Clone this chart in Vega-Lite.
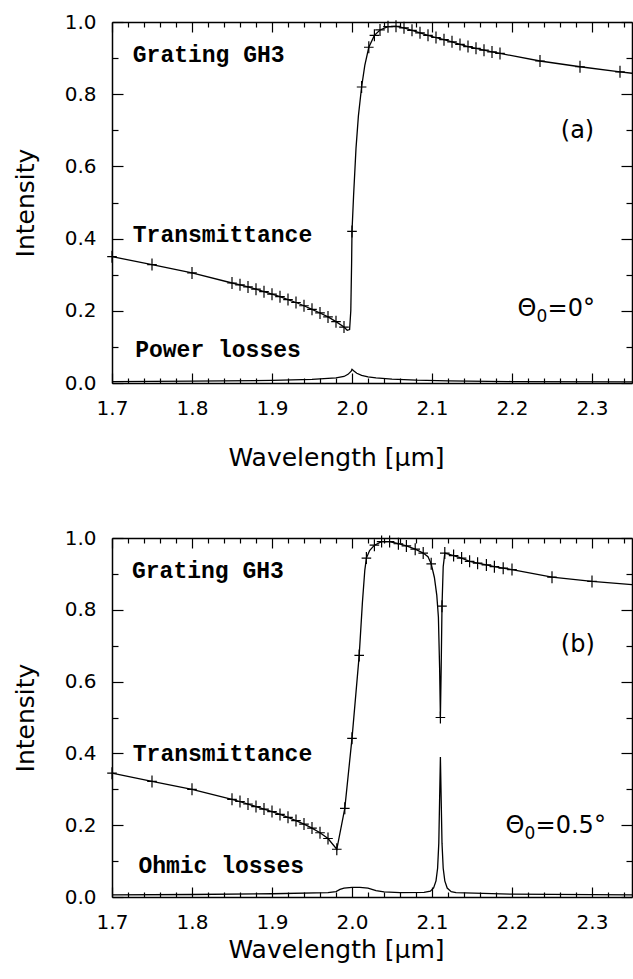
{
  "$schema": "https://vega.github.io/schema/vega-lite/v6.json",
  "padding": {"left": 13, "top": 12, "right": 0, "bottom": 5},
  "background": "white",
  "spacing": 58,
  "datasets": {
    "Ta": [
      {"w":1.70,"v":0.350,"m":1},{"w":1.75,"v":0.328,"m":1},{"w":1.80,"v":0.305,"m":1},{"w":1.85,"v":0.277,"m":1},
      {"w":1.86,"v":0.272,"m":1},{"w":1.87,"v":0.266,"m":1},{"w":1.88,"v":0.260,"m":1},{"w":1.89,"v":0.253,"m":1},
      {"w":1.90,"v":0.246,"m":1},{"w":1.91,"v":0.239,"m":1},{"w":1.92,"v":0.231,"m":1},{"w":1.93,"v":0.223,"m":1},
      {"w":1.94,"v":0.214,"m":1},{"w":1.95,"v":0.204,"m":1},{"w":1.96,"v":0.194,"m":1},{"w":1.97,"v":0.183,"m":1},
      {"w":1.98,"v":0.170,"m":1},{"w":1.99,"v":0.155,"m":1},{"w":1.994,"v":0.146,"m":0},{"w":1.997,"v":0.148,"m":0},
      {"w":1.9985,"v":0.20,"m":0},{"w":1.9995,"v":0.33,"m":0},{"w":2.000,"v":0.42,"m":1},{"w":2.002,"v":0.52,"m":0},
      {"w":2.005,"v":0.65,"m":0},{"w":2.008,"v":0.74,"m":0},{"w":2.012,"v":0.82,"m":1},{"w":2.016,"v":0.88,"m":0},
      {"w":2.021,"v":0.93,"m":1},{"w":2.028,"v":0.963,"m":1},{"w":2.035,"v":0.978,"m":1},{"w":2.045,"v":0.987,"m":1},
      {"w":2.055,"v":0.988,"m":1},{"w":2.065,"v":0.984,"m":1},{"w":2.075,"v":0.977,"m":1},{"w":2.085,"v":0.970,"m":1},
      {"w":2.095,"v":0.963,"m":1},{"w":2.105,"v":0.957,"m":1},{"w":2.115,"v":0.951,"m":1},{"w":2.125,"v":0.945,"m":1},
      {"w":2.135,"v":0.938,"m":1},{"w":2.145,"v":0.932,"m":1},{"w":2.155,"v":0.927,"m":1},{"w":2.165,"v":0.922,"m":1},
      {"w":2.175,"v":0.917,"m":1},{"w":2.185,"v":0.913,"m":1},{"w":2.235,"v":0.892,"m":1},{"w":2.285,"v":0.876,"m":1},
      {"w":2.335,"v":0.862,"m":1},{"w":2.35,"v":0.858,"m":0}
    ],
    "La": [
      {"w":1.70,"v":0.004},{"w":1.80,"v":0.005},{"w":1.90,"v":0.007},{"w":1.95,"v":0.010},{"w":1.98,"v":0.014},
      {"w":1.99,"v":0.018},{"w":1.995,"v":0.024},{"w":1.999,"v":0.033},{"w":2.000,"v":0.038},{"w":2.002,"v":0.034},
      {"w":2.006,"v":0.027},{"w":2.012,"v":0.021},{"w":2.02,"v":0.017},{"w":2.03,"v":0.014},{"w":2.05,"v":0.011},
      {"w":2.08,"v":0.008},{"w":2.12,"v":0.006},{"w":2.20,"v":0.004},{"w":2.35,"v":0.003}
    ],
    "Tb": [
      {"w":1.70,"v":0.345,"m":1},{"w":1.75,"v":0.322,"m":1},{"w":1.80,"v":0.300,"m":1},{"w":1.85,"v":0.272,"m":1},
      {"w":1.86,"v":0.266,"m":1},{"w":1.87,"v":0.259,"m":1},{"w":1.88,"v":0.252,"m":1},{"w":1.89,"v":0.245,"m":1},
      {"w":1.90,"v":0.238,"m":1},{"w":1.91,"v":0.230,"m":1},{"w":1.92,"v":0.222,"m":1},{"w":1.93,"v":0.213,"m":1},
      {"w":1.94,"v":0.203,"m":1},{"w":1.95,"v":0.192,"m":1},{"w":1.96,"v":0.179,"m":1},{"w":1.97,"v":0.163,"m":1},
      {"w":1.981,"v":0.133,"m":1},{"w":1.991,"v":0.247,"m":1},{"w":2.000,"v":0.442,"m":1},{"w":2.009,"v":0.673,"m":1},
      {"w":2.013,"v":0.82,"m":0},{"w":2.016,"v":0.91,"m":0},{"w":2.018,"v":0.944,"m":1},{"w":2.022,"v":0.965,"m":0},
      {"w":2.028,"v":0.980,"m":1},{"w":2.037,"v":0.990,"m":1},{"w":2.047,"v":0.990,"m":1},{"w":2.058,"v":0.984,"m":1},
      {"w":2.068,"v":0.978,"m":1},{"w":2.079,"v":0.969,"m":1},{"w":2.089,"v":0.958,"m":1},{"w":2.095,"v":0.948,"m":0},
      {"w":2.099,"v":0.928,"m":1},{"w":2.103,"v":0.89,"m":0},{"w":2.106,"v":0.84,"m":0},{"w":2.108,"v":0.78,"m":0},
      {"w":2.1095,"v":0.64,"m":0},{"w":2.1105,"v":0.50,"m":1},{"w":2.1115,"v":0.64,"m":0},{"w":2.1125,"v":0.81,"m":1},
      {"w":2.114,"v":0.92,"m":0},{"w":2.116,"v":0.958,"m":1},{"w":2.127,"v":0.951,"m":1},{"w":2.137,"v":0.944,"m":1},
      {"w":2.147,"v":0.935,"m":1},{"w":2.157,"v":0.930,"m":1},{"w":2.168,"v":0.925,"m":1},{"w":2.178,"v":0.920,"m":1},
      {"w":2.189,"v":0.916,"m":1},{"w":2.200,"v":0.912,"m":1},{"w":2.250,"v":0.891,"m":1},{"w":2.300,"v":0.879,"m":1},
      {"w":2.350,"v":0.870,"m":0}
    ],
    "Lb": [
      {"w":1.70,"v":0.006},{"w":1.80,"v":0.007},{"w":1.90,"v":0.009},{"w":1.97,"v":0.012},{"w":1.98,"v":0.015},
      {"w":1.985,"v":0.021},{"w":1.99,"v":0.025},{"w":2.00,"v":0.027},{"w":2.01,"v":0.027},{"w":2.02,"v":0.025},
      {"w":2.03,"v":0.018},{"w":2.04,"v":0.014},{"w":2.06,"v":0.012},{"w":2.09,"v":0.013},{"w":2.098,"v":0.016},
      {"w":2.102,"v":0.025},{"w":2.105,"v":0.045},{"w":2.107,"v":0.08},{"w":2.1085,"v":0.15},{"w":2.1095,"v":0.27},
      {"w":2.1105,"v":0.39},{"w":2.1115,"v":0.27},{"w":2.1125,"v":0.15},{"w":2.114,"v":0.08},{"w":2.116,"v":0.045},
      {"w":2.119,"v":0.025},{"w":2.124,"v":0.015},{"w":2.13,"v":0.012},{"w":2.20,"v":0.008},{"w":2.35,"v":0.006}
    ],
    "Na": [
      {"w":1.726,"v":0.908,"t":"Grating GH3"},{"w":1.726,"v":0.41,"t":"Transmittance"},{"w":1.729,"v":0.092,"t":"Power losses"}
    ],
    "Sa": [
      {"w":2.261,"v":0.698,"t":"(a)","k":"n"},{"w":2.207,"v":0.205,"t":"Θ","k":"n"},
      {"w":2.207,"v":0.205,"t":"0","k":"s"},{"w":2.207,"v":0.205,"t":"=0°","k":"r"}
    ],
    "Nb": [
      {"w":1.725,"v":0.909,"t":"Grating GH3"},{"w":1.726,"v":0.398,"t":"Transmittance"},{"w":1.733,"v":0.086,"t":"Ohmic losses"}
    ],
    "Sb": [
      {"w":2.261,"v":0.702,"t":"(b)","k":"n"},{"w":2.192,"v":0.197,"t":"Θ","k":"n"},
      {"w":2.192,"v":0.197,"t":"0","k":"s"},{"w":2.192,"v":0.197,"t":"=0.5°","k":"r"}
    ]
  },
  "vconcat": [
    {
      "width": 520,
      "height": 361,
      "resolve": {"axis": {"x": "independent", "y": "independent"}},
      "layer": [
        {
          "data": {"name": "Ta"},
          "mark": {"type": "line", "color": "black", "strokeWidth": 1.3},
          "encoding": {
            "x": {"field": "w", "type": "quantitative", "scale": {"domain": [1.7, 2.35], "nice": false, "zero": false},
              "axis": {"orient": "bottom", "values": [1.7,1.72,1.74,1.76,1.78,1.8,1.82,1.84,1.86,1.88,1.9,1.92,1.94,1.96,1.98,2.0,2.02,2.04,2.06,2.08,2.1,2.12,2.14,2.16,2.18,2.2,2.22,2.24,2.26,2.28,2.3,2.32,2.34],
                "labelExpr": "abs(datum.value*10-round(datum.value*10))<0.001 ? format(datum.value,'.1f') : ''",
                "tickSize": {"condition": {"test": "abs(datum.value*10-round(datum.value*10))<0.001", "value": -10}, "value": -5},
                "labelPadding": 25, "labelFlush": false, "labelOverlap": false,
                "title": "Wavelength [μm]", "titleX": 224, "titlePadding": 22}},
            "y": {"field": "v", "type": "quantitative", "scale": {"domain": [0, 1], "nice": false},
              "axis": {"orient": "left", "values": [0,0.1,0.2,0.3,0.4,0.5,0.6,0.7,0.8,0.9,1.0],
                "labelExpr": "abs(datum.value*5-round(datum.value*5))<0.001 ? format(datum.value,'.1f') : ''",
                "tickSize": {"condition": {"test": "abs(datum.value*5-round(datum.value*5))<0.001", "value": -11}, "value": -6},
                "labelPadding": 27, "labelOverlap": false, "title": "Intensity", "titlePadding": 26}}
          }
        },
        {
          "data": {"name": "La"},
          "mark": {"type": "line", "color": "black", "strokeWidth": 1.3},
          "encoding": {
            "x": {"field": "w", "type": "quantitative", "scale": {"domain": [1.7, 2.35], "nice": false, "zero": false},
              "axis": {"orient": "top", "values": [1.7,1.72,1.74,1.76,1.78,1.8,1.82,1.84,1.86,1.88,1.9,1.92,1.94,1.96,1.98,2.0,2.02,2.04,2.06,2.08,2.1,2.12,2.14,2.16,2.18,2.2,2.22,2.24,2.26,2.28,2.3,2.32,2.34],
                "labels": false, "title": null,
                "tickSize": {"condition": {"test": "abs(datum.value*10-round(datum.value*10))<0.001", "value": -10}, "value": -5}}},
            "y": {"field": "v", "type": "quantitative", "scale": {"domain": [0, 1], "nice": false},
              "axis": {"orient": "right", "values": [0,0.1,0.2,0.3,0.4,0.5,0.6,0.7,0.8,0.9,1.0], "labels": false, "title": null,
                "tickSize": {"condition": {"test": "abs(datum.value*5-round(datum.value*5))<0.001", "value": -11}, "value": -6}}}
          }
        },
        {
          "data": {"name": "Ta"},
          "transform": [{"filter": "datum.m == 1"}],
          "mark": {"type": "point", "shape": "M-0.8,0L0.8,0M0,-1L0,1", "filled": false, "color": "black", "strokeWidth": 1.2, "size": 144, "opacity": 1},
          "encoding": {
            "x": {"field": "w", "type": "quantitative", "axis": null},
            "y": {"field": "v", "type": "quantitative", "axis": null}
          }
        },
        {
          "data": {"name": "Na"},
          "mark": {"type": "text", "font": "Liberation Mono", "fontWeight": "bold", "fontSize": 23, "align": "left", "baseline": "middle", "color": "black"},
          "encoding": {
            "x": {"field": "w", "type": "quantitative", "axis": null},
            "y": {"field": "v", "type": "quantitative", "axis": null},
            "text": {"field": "t"}
          }
        },
        {
          "data": {"name": "Sa"},
          "transform": [{"filter": "datum.k == 'n'"}],
          "mark": {"type": "text", "font": "DejaVu Sans", "fontSize": 24, "align": "left", "baseline": "middle", "color": "black"},
          "encoding": {
            "x": {"field": "w", "type": "quantitative", "axis": null},
            "y": {"field": "v", "type": "quantitative", "axis": null},
            "text": {"field": "t"}
          }
        },
        {
          "data": {"name": "Sa"},
          "transform": [{"filter": "datum.k == 's'"}],
          "mark": {"type": "text", "font": "DejaVu Sans", "fontSize": 17, "align": "left", "baseline": "middle", "dx": 19, "dy": 8, "color": "black"},
          "encoding": {
            "x": {"field": "w", "type": "quantitative", "axis": null},
            "y": {"field": "v", "type": "quantitative", "axis": null},
            "text": {"field": "t"}
          }
        },
        {
          "data": {"name": "Sa"},
          "transform": [{"filter": "datum.k == 'r'"}],
          "mark": {"type": "text", "font": "DejaVu Sans", "fontSize": 24, "align": "left", "baseline": "middle", "dx": 30, "color": "black"},
          "encoding": {
            "x": {"field": "w", "type": "quantitative", "axis": null},
            "y": {"field": "v", "type": "quantitative", "axis": null},
            "text": {"field": "t"}
          }
        }
      ]
    },
    {
      "width": 520,
      "height": 359,
      "resolve": {"axis": {"x": "independent", "y": "independent"}},
      "layer": [
        {
          "data": {"name": "Tb"},
          "mark": {"type": "line", "color": "black", "strokeWidth": 1.3},
          "encoding": {
            "x": {"field": "w", "type": "quantitative", "scale": {"domain": [1.7, 2.35], "nice": false, "zero": false},
              "axis": {"orient": "bottom", "values": [1.7,1.72,1.74,1.76,1.78,1.8,1.82,1.84,1.86,1.88,1.9,1.92,1.94,1.96,1.98,2.0,2.02,2.04,2.06,2.08,2.1,2.12,2.14,2.16,2.18,2.2,2.22,2.24,2.26,2.28,2.3,2.32,2.34],
                "labelExpr": "abs(datum.value*10-round(datum.value*10))<0.001 ? format(datum.value,'.1f') : ''",
                "tickSize": {"condition": {"test": "abs(datum.value*10-round(datum.value*10))<0.001", "value": -10}, "value": -5},
                "labelPadding": 25, "labelFlush": false, "labelOverlap": false,
                "title": "Wavelength [μm]", "titleX": 224, "titlePadding": 0}},
            "y": {"field": "v", "type": "quantitative", "scale": {"domain": [0, 1], "nice": false},
              "axis": {"orient": "left", "values": [0,0.1,0.2,0.3,0.4,0.5,0.6,0.7,0.8,0.9,1.0],
                "labelExpr": "abs(datum.value*5-round(datum.value*5))<0.001 ? format(datum.value,'.1f') : ''",
                "tickSize": {"condition": {"test": "abs(datum.value*5-round(datum.value*5))<0.001", "value": -11}, "value": -6},
                "labelPadding": 27, "labelOverlap": false, "title": "Intensity", "titlePadding": 26}}
          }
        },
        {
          "data": {"name": "Lb"},
          "mark": {"type": "line", "color": "black", "strokeWidth": 1.3},
          "encoding": {
            "x": {"field": "w", "type": "quantitative", "scale": {"domain": [1.7, 2.35], "nice": false, "zero": false},
              "axis": {"orient": "top", "values": [1.7,1.72,1.74,1.76,1.78,1.8,1.82,1.84,1.86,1.88,1.9,1.92,1.94,1.96,1.98,2.0,2.02,2.04,2.06,2.08,2.1,2.12,2.14,2.16,2.18,2.2,2.22,2.24,2.26,2.28,2.3,2.32,2.34],
                "labels": false, "title": null,
                "tickSize": {"condition": {"test": "abs(datum.value*10-round(datum.value*10))<0.001", "value": -10}, "value": -5}}},
            "y": {"field": "v", "type": "quantitative", "scale": {"domain": [0, 1], "nice": false},
              "axis": {"orient": "right", "values": [0,0.1,0.2,0.3,0.4,0.5,0.6,0.7,0.8,0.9,1.0], "labels": false, "title": null,
                "tickSize": {"condition": {"test": "abs(datum.value*5-round(datum.value*5))<0.001", "value": -11}, "value": -6}}}
          }
        },
        {
          "data": {"name": "Tb"},
          "transform": [{"filter": "datum.m == 1"}],
          "mark": {"type": "point", "shape": "M-0.8,0L0.8,0M0,-1L0,1", "filled": false, "color": "black", "strokeWidth": 1.2, "size": 144, "opacity": 1},
          "encoding": {
            "x": {"field": "w", "type": "quantitative", "axis": null},
            "y": {"field": "v", "type": "quantitative", "axis": null}
          }
        },
        {
          "data": {"name": "Nb"},
          "mark": {"type": "text", "font": "Liberation Mono", "fontWeight": "bold", "fontSize": 23, "align": "left", "baseline": "middle", "color": "black"},
          "encoding": {
            "x": {"field": "w", "type": "quantitative", "axis": null},
            "y": {"field": "v", "type": "quantitative", "axis": null},
            "text": {"field": "t"}
          }
        },
        {
          "data": {"name": "Sb"},
          "transform": [{"filter": "datum.k == 'n'"}],
          "mark": {"type": "text", "font": "DejaVu Sans", "fontSize": 24, "align": "left", "baseline": "middle", "color": "black"},
          "encoding": {
            "x": {"field": "w", "type": "quantitative", "axis": null},
            "y": {"field": "v", "type": "quantitative", "axis": null},
            "text": {"field": "t"}
          }
        },
        {
          "data": {"name": "Sb"},
          "transform": [{"filter": "datum.k == 's'"}],
          "mark": {"type": "text", "font": "DejaVu Sans", "fontSize": 17, "align": "left", "baseline": "middle", "dx": 19, "dy": 8, "color": "black"},
          "encoding": {
            "x": {"field": "w", "type": "quantitative", "axis": null},
            "y": {"field": "v", "type": "quantitative", "axis": null},
            "text": {"field": "t"}
          }
        },
        {
          "data": {"name": "Sb"},
          "transform": [{"filter": "datum.k == 'r'"}],
          "mark": {"type": "text", "font": "DejaVu Sans", "fontSize": 24, "align": "left", "baseline": "middle", "dx": 30, "color": "black"},
          "encoding": {
            "x": {"field": "w", "type": "quantitative", "axis": null},
            "y": {"field": "v", "type": "quantitative", "axis": null},
            "text": {"field": "t"}
          }
        }
      ]
    }
  ],
  "config": {
    "view": {"stroke": null},
    "axis": {
      "grid": false,
      "domainColor": "black",
      "domainWidth": 1.5,
      "tickColor": "black",
      "tickWidth": 1.2,
      "labelFont": "DejaVu Sans",
      "labelFontSize": 20,
      "labelColor": "black",
      "titleFont": "DejaVu Sans",
      "titleFontSize": 25,
      "titleFontWeight": "normal",
      "titleColor": "black"
    }
  }
}
